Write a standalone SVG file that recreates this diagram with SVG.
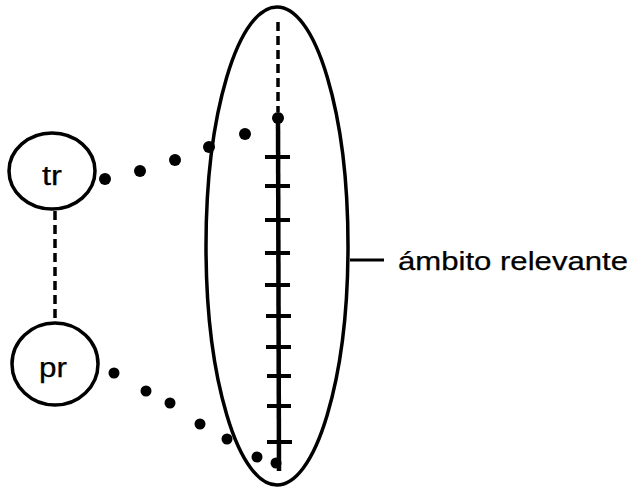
<svg xmlns="http://www.w3.org/2000/svg" width="631" height="488" viewBox="0 0 631 488">
<style>
.node{fill:none;stroke:#000;stroke-width:3.5}
.lbl{font-family:"Liberation Sans",Arial,sans-serif;fill:#000;stroke:#000;stroke-width:0.25}
.dash{stroke:#000;stroke-width:3.5;stroke-dasharray:9,5;fill:none}
.tick{stroke:#000;stroke-width:4}
.dot{fill:#000}
</style>
<rect width="631" height="488" fill="#fff"/>
<g id="ambito">
<ellipse cx="277" cy="246" rx="71" ry="239" fill="none" stroke="#000" stroke-width="3.5"/>
<line class="dash" x1="278" y1="22" x2="278" y2="112"/>
<line x1="278" y1="118" x2="279" y2="471" stroke="#000" stroke-width="4.5"/>
<circle class="dot" cx="278" cy="118" r="6"/>
<g class="tick">
<line x1="265" y1="157" x2="290" y2="157"/>
<line x1="265" y1="186" x2="290" y2="186"/>
<line x1="265" y1="220" x2="290" y2="220"/>
<line x1="265" y1="253" x2="290" y2="253"/>
<line x1="265" y1="285" x2="290" y2="285"/>
<line x1="266" y1="316" x2="291" y2="316"/>
<line x1="266" y1="347" x2="291" y2="347"/>
<line x1="267" y1="376" x2="291" y2="376"/>
<line x1="267" y1="406" x2="291" y2="406"/>
<line x1="267" y1="442" x2="292" y2="442"/>
</g>
</g>
<g id="tr">
<ellipse class="node" cx="52" cy="171" rx="43" ry="38"/>
<text class="lbl" x="52" y="185" font-size="27" text-anchor="middle" textLength="20" lengthAdjust="spacingAndGlyphs">tr</text>
</g>
<g id="pr">
<ellipse class="node" cx="55" cy="364" rx="43" ry="41"/>
<text class="lbl" x="53" y="377" font-size="27" text-anchor="middle" textLength="28" lengthAdjust="spacingAndGlyphs">pr</text>
</g>
<g id="label">
<line x1="350" y1="260" x2="384" y2="260" stroke="#000" stroke-width="3"/>
<text class="lbl" x="398" y="270" font-size="26" textLength="230" lengthAdjust="spacingAndGlyphs">ámbito relevante</text>
</g>
<g id="connectors">
<line class="dash" x1="55" y1="211" x2="55" y2="321"/>
<g class="dot">
<circle cx="105" cy="179" r="6"/>
<circle cx="140" cy="171" r="6"/>
<circle cx="175" cy="160" r="6"/>
<circle cx="209" cy="147" r="6"/>
<circle cx="245" cy="134" r="6"/>
<circle cx="114" cy="373" r="5.5"/>
<circle cx="146" cy="391" r="5.5"/>
<circle cx="170" cy="403" r="5.5"/>
<circle cx="200" cy="424" r="5.5"/>
<circle cx="227" cy="439" r="5.5"/>
<circle cx="257" cy="457" r="5.5"/>
<circle cx="276" cy="463" r="5.5"/>
</g>
</g>
</svg>
